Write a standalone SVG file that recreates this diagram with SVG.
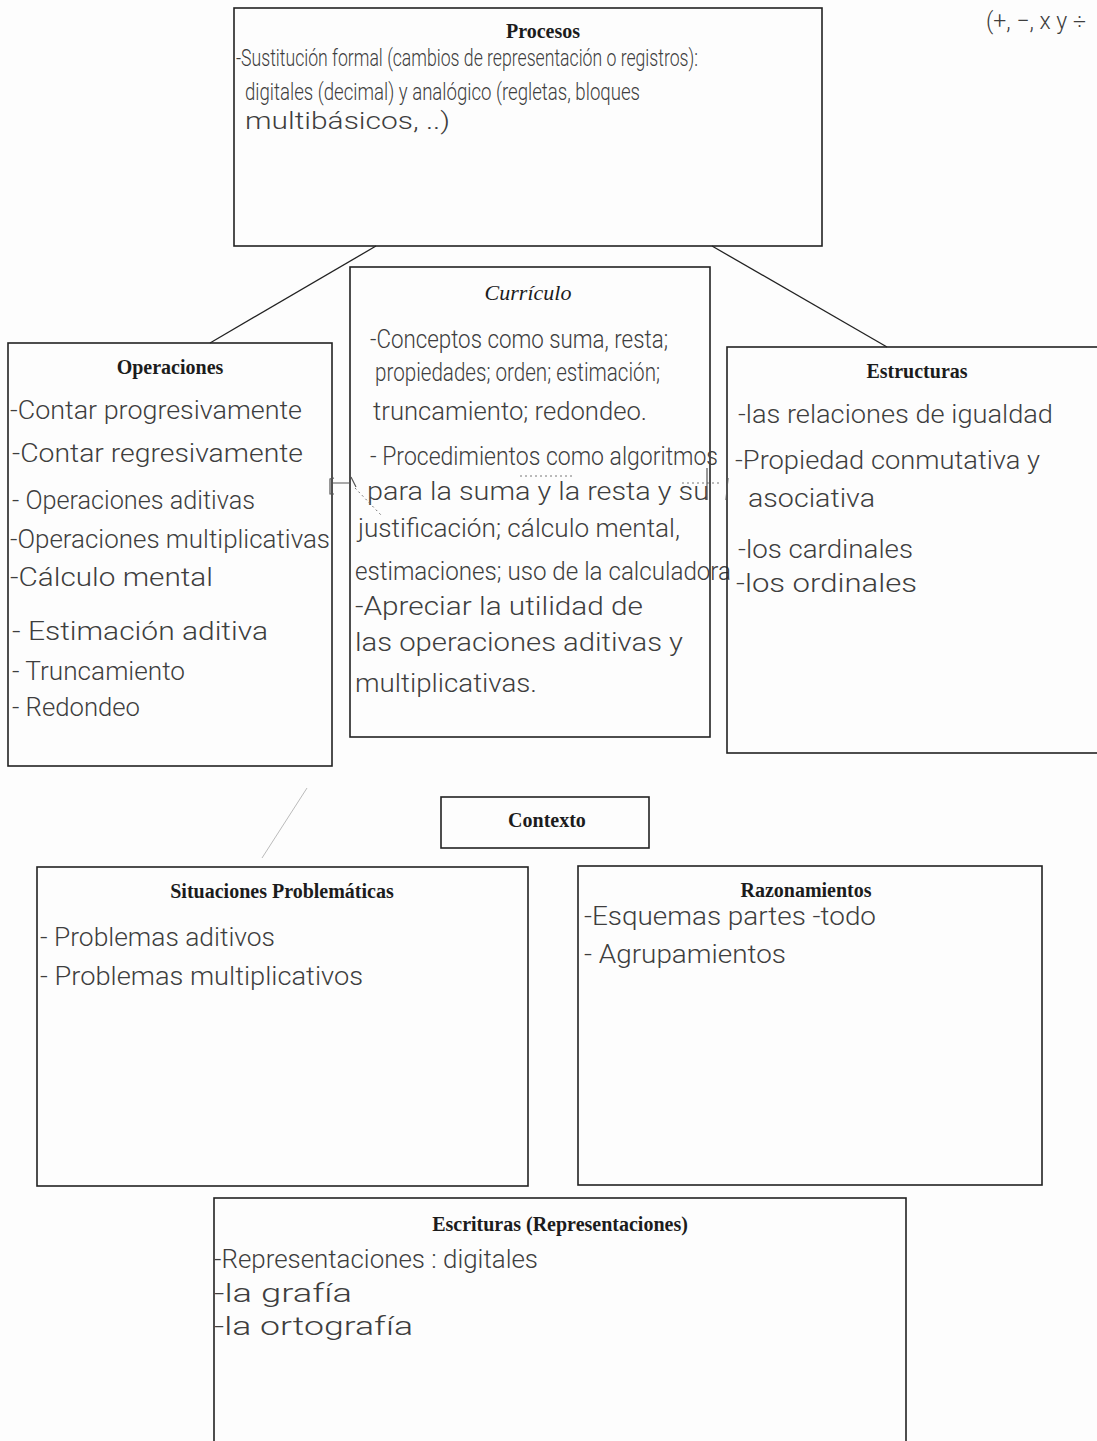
<svg xmlns="http://www.w3.org/2000/svg" width="1097" height="1441" viewBox="0 0 1097 1441">
<style>
.box{fill:none;stroke:#222;stroke-width:1.6}
.con{fill:none;stroke:#222;stroke-width:1.3}
.t{font-family:"Liberation Serif",serif;font-weight:bold;font-size:20px;fill:#1c1c1c;text-anchor:middle}
.ti{font-family:"Liberation Serif",serif;font-style:italic;font-size:22px;fill:#1c1c1c;text-anchor:middle}
.h{font-family:Roboto,"Open Sans","DejaVu Sans",sans-serif;font-weight:300;font-size:26px;fill:#3e3e3e}
.hs{font-size:24px}
.mark{fill:none;stroke:#555;stroke-width:1.2}
.dot{fill:none;stroke:#777;stroke-width:1;stroke-dasharray:2 3}
</style>
<rect x="0" y="0" width="1097" height="1441" fill="#fdfdfd"/>
<g id="connectors">
<line class="con" x1="376" y1="246" x2="210" y2="343"/>
<line class="con" x1="712" y1="246" x2="887" y2="347"/>
<line x1="307" y1="788" x2="262" y2="858" stroke="#bbb" stroke-width="1"/>
</g>
<g id="procesos">
<rect class="box" x="234" y="8" width="588" height="238"/>
<text class="t" x="543" y="38">Procesos</text>
<text class="h hs" x="236" y="66" textLength="462" lengthAdjust="spacingAndGlyphs">-Sustitución formal (cambios de representación o registros):</text>
<text class="h hs" x="245" y="100" textLength="395" lengthAdjust="spacingAndGlyphs">digitales (decimal) y analógico (regletas, bloques</text>
<text class="h hs" x="245" y="129" textLength="205" lengthAdjust="spacingAndGlyphs">multibásicos, ..)</text>
</g>
<g id="nota">
<text class="h hs" x="986" y="29" textLength="100" lengthAdjust="spacingAndGlyphs">(+, −, x y ÷</text>
</g>
<g id="operaciones">
<rect class="box" x="8" y="343" width="324" height="423"/>
<text class="t" x="170" y="374">Operaciones</text>
<text class="h" x="10" y="419" textLength="292" lengthAdjust="spacingAndGlyphs">-Contar progresivamente</text>
<text class="h" x="12" y="462" textLength="291" lengthAdjust="spacingAndGlyphs">-Contar regresivamente</text>
<text class="h" x="12" y="509" textLength="243" lengthAdjust="spacingAndGlyphs">- Operaciones aditivas</text>
<text class="h" x="10" y="548" textLength="320" lengthAdjust="spacingAndGlyphs">-Operaciones multiplicativas</text>
<text class="h" x="10" y="586" textLength="203" lengthAdjust="spacingAndGlyphs">-Cálculo mental</text>
<text class="h" x="12" y="640" textLength="256" lengthAdjust="spacingAndGlyphs">- Estimación aditiva</text>
<text class="h" x="12" y="680" textLength="173" lengthAdjust="spacingAndGlyphs">- Truncamiento</text>
<text class="h" x="12" y="716" textLength="128" lengthAdjust="spacingAndGlyphs">- Redondeo</text>
</g>
<g id="curriculo">
<rect class="box" x="350" y="267" width="360" height="470"/>
<text class="ti" x="528" y="300">Currículo</text>
<text class="h" x="370" y="348" textLength="298" lengthAdjust="spacingAndGlyphs">-Conceptos como suma, resta;</text>
<text class="h" x="375" y="381" textLength="285" lengthAdjust="spacingAndGlyphs">propiedades; orden; estimación;</text>
<text class="h" x="373" y="420" textLength="274" lengthAdjust="spacingAndGlyphs">truncamiento; redondeo.</text>
<text class="h" x="370" y="465" textLength="348" lengthAdjust="spacingAndGlyphs">- Procedimientos como algoritmos</text>
<text class="h" x="367" y="500" textLength="342" lengthAdjust="spacingAndGlyphs">para la suma y la resta y su</text>
<text class="h" x="358" y="537" textLength="322" lengthAdjust="spacingAndGlyphs">justificación; cálculo mental,</text>
<text class="h" x="355" y="580" textLength="376" lengthAdjust="spacingAndGlyphs">estimaciones; uso de la calculadora</text>
<text class="h" x="355" y="615" textLength="288" lengthAdjust="spacingAndGlyphs">-Apreciar la utilidad de</text>
<text class="h" x="355" y="651" textLength="328" lengthAdjust="spacingAndGlyphs">las operaciones aditivas y</text>
<text class="h" x="355" y="692" textLength="182" lengthAdjust="spacingAndGlyphs">multiplicativas.</text>
</g>
<g id="estructuras">
<rect class="box" x="727" y="347" width="380" height="406"/>
<text class="t" x="917" y="378">Estructuras</text>
<text class="h" x="738" y="423" textLength="315" lengthAdjust="spacingAndGlyphs">-las relaciones de igualdad</text>
<text class="h" x="735" y="469" textLength="305" lengthAdjust="spacingAndGlyphs">-Propiedad conmutativa y</text>
<text class="h" x="748" y="507" textLength="127" lengthAdjust="spacingAndGlyphs">asociativa</text>
<text class="h" x="738" y="558" textLength="175" lengthAdjust="spacingAndGlyphs">-los cardinales</text>
<text class="h" x="736" y="592" textLength="181" lengthAdjust="spacingAndGlyphs">-los ordinales</text>
</g>
<g id="marcas">
<path class="mark" d="M334,478 L330,479 L330,494 L334,494 M333,483 L350,483 M351,477 L356,487"/>
<path class="dot" d="M355,488 L382,516 M520,476 L573,476 M682,483 L720,483"/>
<path class="mark" d="M707,468 L707,500 M728,478 L726,500"/>
</g>
<g id="contexto">
<rect class="box" x="441" y="797" width="208" height="51"/>
<text class="t" x="547" y="827">Contexto</text>
</g>
<g id="situaciones">
<rect class="box" x="37" y="867" width="491" height="319"/>
<text class="t" x="282" y="898">Situaciones Problemáticas</text>
<text class="h" x="40" y="946" textLength="235" lengthAdjust="spacingAndGlyphs">- Problemas aditivos</text>
<text class="h" x="40" y="985" textLength="323" lengthAdjust="spacingAndGlyphs">- Problemas multiplicativos</text>
</g>
<g id="razonamientos">
<rect class="box" x="578" y="866" width="464" height="319"/>
<text class="t" x="806" y="897">Razonamientos</text>
<text class="h" x="584" y="925" textLength="292" lengthAdjust="spacingAndGlyphs">-Esquemas partes -todo</text>
<text class="h" x="584" y="963" textLength="202" lengthAdjust="spacingAndGlyphs">- Agrupamientos</text>
</g>
<g id="escrituras">
<rect class="box" x="214" y="1198" width="692" height="260"/>
<text class="t" x="560" y="1231">Escrituras (Representaciones)</text>
<text class="h" x="214" y="1268" textLength="324" lengthAdjust="spacingAndGlyphs">-Representaciones : digitales</text>
<text class="h" x="214" y="1302" textLength="138" lengthAdjust="spacingAndGlyphs">-la grafía</text>
<text class="h" x="214" y="1335" textLength="199" lengthAdjust="spacingAndGlyphs">-la ortografía</text>
</g>
</svg>
